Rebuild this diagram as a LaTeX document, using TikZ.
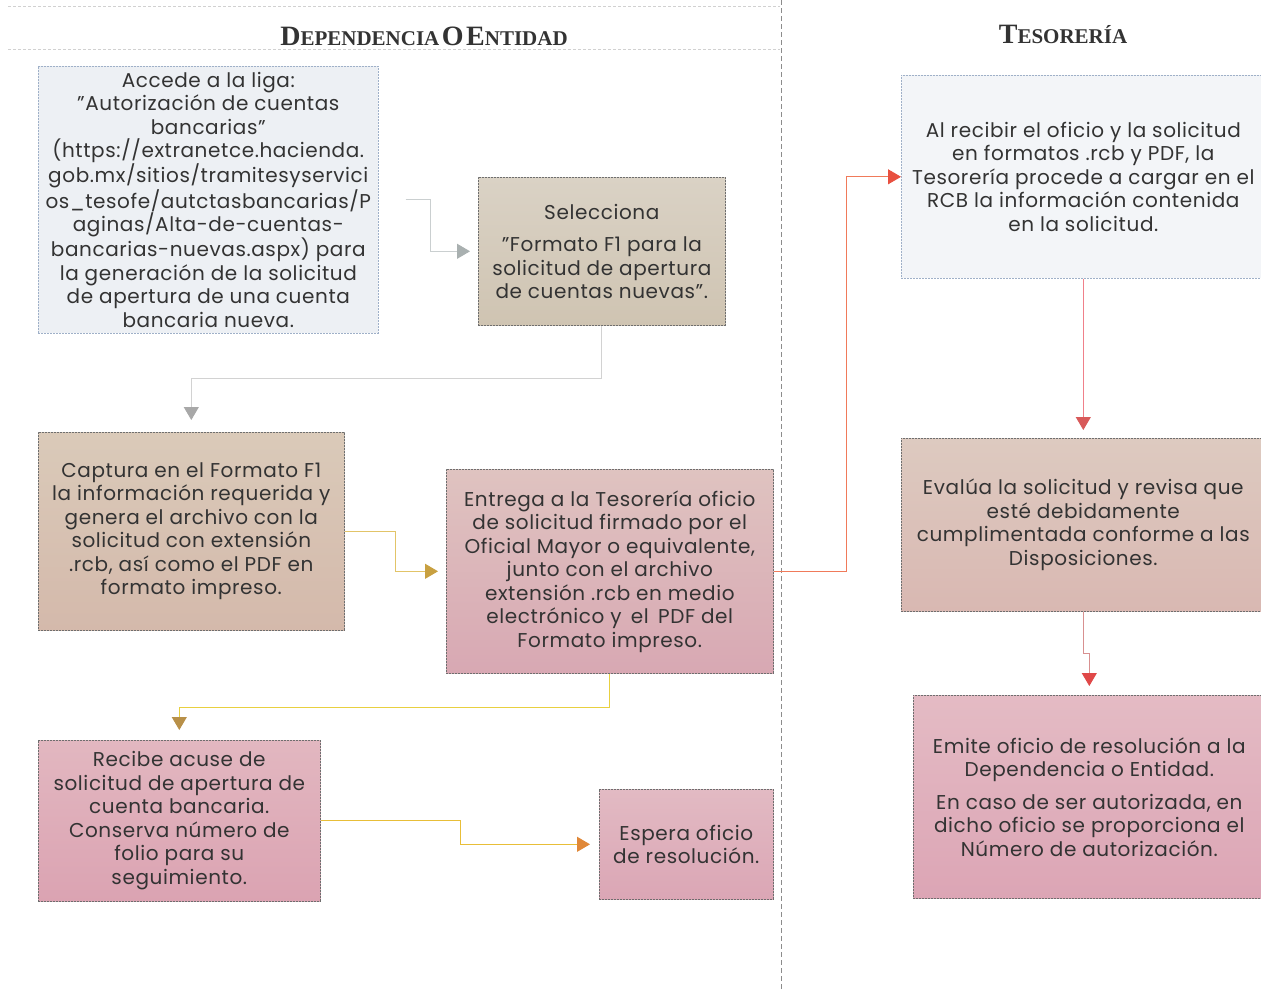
\documentclass[tikz,border=0pt]{standalone}
\usepackage{fontspec}
\setmainfont{Poppins}[LetterSpace=3]
\newfontfamily\hfont{Liberation Serif}
\usetikzlibrary{arrows.meta}
\definecolor{txt}{HTML}{333333}
\definecolor{bordc}{HTML}{6E6E6E}
\definecolor{bluebord}{HTML}{9FB0C8}
\definecolor{fA}{HTML}{EDF0F4}
\definecolor{selT}{HTML}{DAD2C5}\definecolor{selB}{HTML}{CFC4B2}
\definecolor{capT}{HTML}{DACAB9}\definecolor{capB}{HTML}{D4B9AB}
\definecolor{entT}{HTML}{DFC3C0}\definecolor{entB}{HTML}{D8A8B3}
\definecolor{recT}{HTML}{E2B7C0}\definecolor{recB}{HTML}{DBA3B2}
\definecolor{espT}{HTML}{E2BAC3}\definecolor{espB}{HTML}{DBA6B5}
\definecolor{fT}{HTML}{F3F5F8}
\definecolor{evT}{HTML}{DDCAC0}\definecolor{evB}{HTML}{D9B8B2}
\definecolor{emT}{HTML}{E4BBC4}\definecolor{emB}{HTML}{DCA5B5}
\definecolor{l1}{HTML}{CACFD0}\definecolor{a1}{HTML}{A9B0B0}
\definecolor{l2}{HTML}{D2D2D2}\definecolor{a2}{HTML}{A8A8A8}
\definecolor{l3}{HTML}{E2C468}\definecolor{a3}{HTML}{C8A040}
\definecolor{l4}{HTML}{E8D040}\definecolor{a4}{HTML}{B89048}
\definecolor{l5}{HTML}{E8BE38}\definecolor{a5}{HTML}{E08838}
\definecolor{l6}{HTML}{F07A5A}\definecolor{a6}{HTML}{E85040}
\definecolor{l7}{HTML}{F0808A}\definecolor{a7}{HTML}{D85A5A}
\definecolor{l8}{HTML}{D89090}\definecolor{a8}{HTML}{E04848}
\newcommand\fakesc[2]{{\fontsize{28}{28}\selectfont #1}{\fontsize{21}{21}\selectfont #2}}
\tikzset{
  box/.style={anchor=north west, inner sep=0pt, align=center, text=txt,
    font=\fontsize{20}{23.5}\selectfont, draw=bordc, line width=0.6pt,
    dash pattern=on 2pt off 1pt},
  conn/.style={line width=0.9pt},
  tip/.style={-{Triangle[length=13pt,width=15pt,fill=#1,color=#1]}},
  hdr/.style={text=black!80, font=\hfont\bfseries},
}
\begin{document}
\begin{tikzpicture}[x=1pt,y=-1pt]
\useasboundingbox (0,0) rectangle (1261,991);
\fill[white] (0,0) rectangle (1261,991);
% header lines and separator
\draw[black!18, dash pattern=on 3pt off 2pt, line width=0.5pt] (8,6) -- (780,6);
\draw[black!18, dash pattern=on 3pt off 2pt, line width=0.5pt] (8,49) -- (780,49);
\draw[black!45, dash pattern=on 5pt off 3pt, line width=0.6pt] (781,0) -- (781,991);
\node[hdr] (h1) at (424,36) {\fakesc{D}{EPENDENCIA} \fakesc{O}{} \fakesc{E}{NTIDAD}};
\node[hdr] (h2) at (1063,34) {\fakesc{T}{ESORERÍA}};

% boxes
\node[box, draw=bluebord, fill=fA, minimum width=340pt, minimum height=267pt] (A) at (38,66)
 {Accede a la liga:\\ "Autorización de cuentas\\ bancarias"\\ (https://extranetce.hacienda.\\ gob.mx/sitios/tramitesyservici\\ os\_tesofe/autctasbancarias/P\\ aginas/Alta-de-cuentas-\\ bancarias-nuevas.aspx) para\\ la generación de la solicitud\\ de apertura de una cuenta\\ bancaria nueva.};
\node[box, top color=selT, bottom color=selB, minimum width=247pt, minimum height=148pt] (sel) at (478,177)
 {Selecciona\\[9pt] "Formato F1 para la\\ solicitud de apertura\\ de cuentas nuevas".};
\node[box, top color=capT, bottom color=capB, minimum width=306pt, minimum height=198pt] (cap) at (38,432)
 {Captura en el Formato F1\\ la información requerida y\\ genera el archivo con la\\ solicitud con extensión\\ .rcb, así como el PDF en\\ formato impreso.};
\node[box, top color=entT, bottom color=entB, minimum width=327pt, minimum height=204pt] (ent) at (446,469)
 {Entrega a la Tesorería oficio\\ de solicitud firmado por el\\ Oficial Mayor o equivalente,\\ junto con el archivo\\ extensión .rcb en medio\\ electrónico y\, el\, PDF del\\ Formato impreso.};
\node[box, top color=recT, bottom color=recB, minimum width=282pt, minimum height=161pt] (rec) at (38,740)
 {Recibe acuse de\\ solicitud de apertura de\\ cuenta bancaria.\\ Conserva número de\\ folio para su\\ seguimiento.};
\node[box, top color=espT, bottom color=espB, minimum width=174pt, minimum height=110pt] (esp) at (599,789)
 {Espera oficio\\ de resolución.};
\node[box, draw=bluebord, fill=fT, minimum width=364pt, minimum height=203pt] (t1) at (901,75)
 {Al recibir el oficio y la solicitud\\ en formatos .rcb y PDF, la\\ Tesorería procede a cargar en el\\ RCB la información contenida\\ en la solicitud.};
\node[box, top color=evT, bottom color=evB, minimum width=364pt, minimum height=173pt] (ev) at (901,438)
 {Evalúa la solicitud y revisa que\\ esté debidamente\\ cumplimentada conforme a las\\ Disposiciones.};
\node[box, top color=emT, bottom color=emB, minimum width=352pt, minimum height=203pt] (em) at (913,695)
 {Emite oficio de resolución a la\\ Dependencia o Entidad.\\[9pt] En caso de ser autorizada, en\\ dicho oficio se proporciona el\\ Número de autorización.};

% connectors
\draw[conn, draw=l1, tip=a1, shorten <=27pt, shorten >=8pt] (A.east) -- ++(52,0) |- (sel.west);
\draw[conn, draw=l2, tip=a2, shorten >=12pt] (sel.south) -- ++(0,53) -| (cap.north);
\draw[conn, draw=l3, tip=a3, shorten >=8pt] (cap.east) -- ++(51,0) |- (ent.west);
\draw[conn, draw=l4, tip=a4, shorten >=10pt] (ent.south) -- ++(0,34) -| (rec.north);
\draw[conn, draw=l5, tip=a5, shorten >=9pt] (rec.east) -- ++(140,0) |- (esp.west);
\draw[conn, draw=l6, tip=a6] (ent.east) -- ++(73,0) |- (t1.west);
\draw[conn, draw=l7, tip=a7, shorten >=8pt] (t1.south) -- (ev.north);
\draw[conn, draw=l8, tip=a8, shorten >=9pt] (ev.south) -- ++(0,42) -| (em.north);
\end{tikzpicture}
\end{document}
